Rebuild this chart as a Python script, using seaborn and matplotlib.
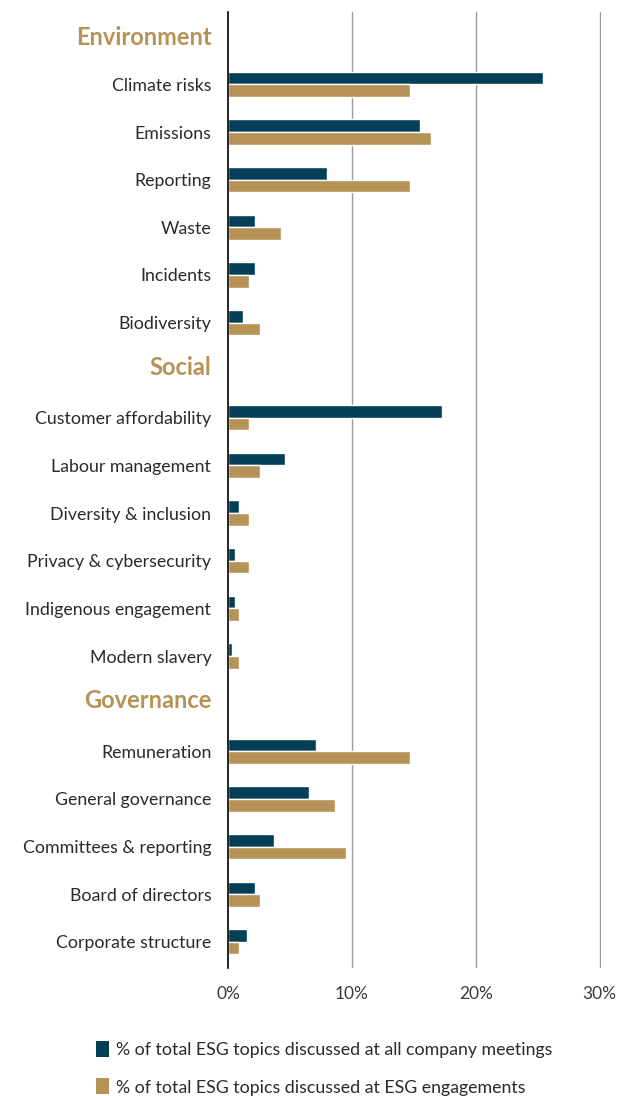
import matplotlib
matplotlib.use("Agg")
import matplotlib.pyplot as plt
import matplotlib.transforms as mtransforms
from matplotlib.patches import Patch
import seaborn as sns
import pandas as pd

# ---- data ----
sections = ["Environment", "Social", "Governance"]
env_topics = ["Climate risks", "Emissions", "Reporting", "Waste", "Incidents", "Biodiversity"]
soc_topics = ["Customer affordability", "Labour management", "Diversity & inclusion",
              "Privacy & cybersecurity", "Indigenous engagement", "Modern slavery"]
gov_topics = ["Remuneration", "General governance", "Committees & reporting",
              "Board of directors", "Corporate structure"]

meetings_env = [25.4, 15.5, 8.0, 2.2, 2.2, 1.2]
meetings_soc = [17.3, 4.6, 0.9, 0.6, 0.6, 0.3]
meetings_gov = [7.1, 6.5, 3.7, 2.2, 1.5]

engage_env = [14.7, 16.4, 14.7, 4.3, 1.7, 2.6]
engage_soc = [1.7, 2.6, 1.7, 1.7, 0.9, 0.9]
engage_gov = [14.7, 8.6, 9.5, 2.6, 0.9]

series_names = ["% of total ESG topics discussed at all company meetings",
                "% of total ESG topics discussed at ESG engagements"]
x_ticks = [0, 10, 20, 30]
x_tick_labels = ["0%", "10%", "20%", "30%"]

DARK = "#033F56"
GOLD = "#B69257"

topics = env_topics + soc_topics + gov_topics
meet_vals = meetings_env + meetings_soc + meetings_gov
eng_vals = engage_env + engage_soc + engage_gov
order = [sections[0]] + env_topics + [sections[1]] + soc_topics + [sections[2]] + gov_topics

df = pd.DataFrame({
    "topic": topics * 2,
    "value": meet_vals + eng_vals,
    "series": [series_names[0]] * len(topics) + [series_names[1]] * len(topics),
})

sns.set_theme(style="white")
plt.rcParams["font.family"] = ["Lato", "DejaVu Sans"]

fig = plt.figure(figsize=(6.25, 10.96), dpi=100)
ax = fig.add_axes([228 / 625, 1 - 968 / 1096, (601 - 228) / 625, (968 - 12) / 1096])

sns.barplot(data=df, y="topic", x="value", hue="series", order=order,
            hue_order=series_names, palette=[DARK, GOLD], orient="h",
            width=0.53, saturation=1, ax=ax, legend=False)

ax.set_xlim(0, 30.1)
ax.set_ylim(len(order) - 0.45, -0.52)
ax.set_xticks(x_ticks)
ax.set_xticklabels(x_tick_labels, fontsize=12.5, color="#3a3a3a")
ax.set_xlabel("")
ax.set_ylabel("")
ax.tick_params(axis="x", length=0, pad=13)
ax.tick_params(axis="y", length=0, pad=12)
for s in ["top", "right", "bottom"]:
    ax.spines[s].set_visible(False)
ax.spines["left"].set_color("black")
ax.spines["left"].set_linewidth(1.2)
for xv in x_ticks[1:]:
    ax.axvline(xv, color="#9a9a9a", lw=1, zorder=0)

for lab in ax.get_yticklabels():
    if lab.get_text() in sections:
        lab.set_fontsize(17)
        lab.set_fontweight("bold")
        lab.set_color(GOLD)
        up = 1 if lab.get_text() == sections[0] else 5
        shift = mtransforms.ScaledTranslation(0, up / 100, fig.dpi_scale_trans)
        lab.set_transform(lab.get_transform() + shift)
    else:
        lab.set_fontsize(12.8)
        lab.set_color("#2a2a2a")

handles = [Patch(facecolor=DARK, edgecolor="none"), Patch(facecolor=GOLD, edgecolor="none")]
fig.legend(handles, series_names, loc="upper left", bbox_to_anchor=(80 / 625, 1 - 1025 / 1096),
           frameon=False, fontsize=12.8, handlelength=0.75, handleheight=1.0,
           handletextpad=0.4, labelspacing=1.15, labelcolor="#2a2a2a")

fig.savefig("out.png", dpi=100)
